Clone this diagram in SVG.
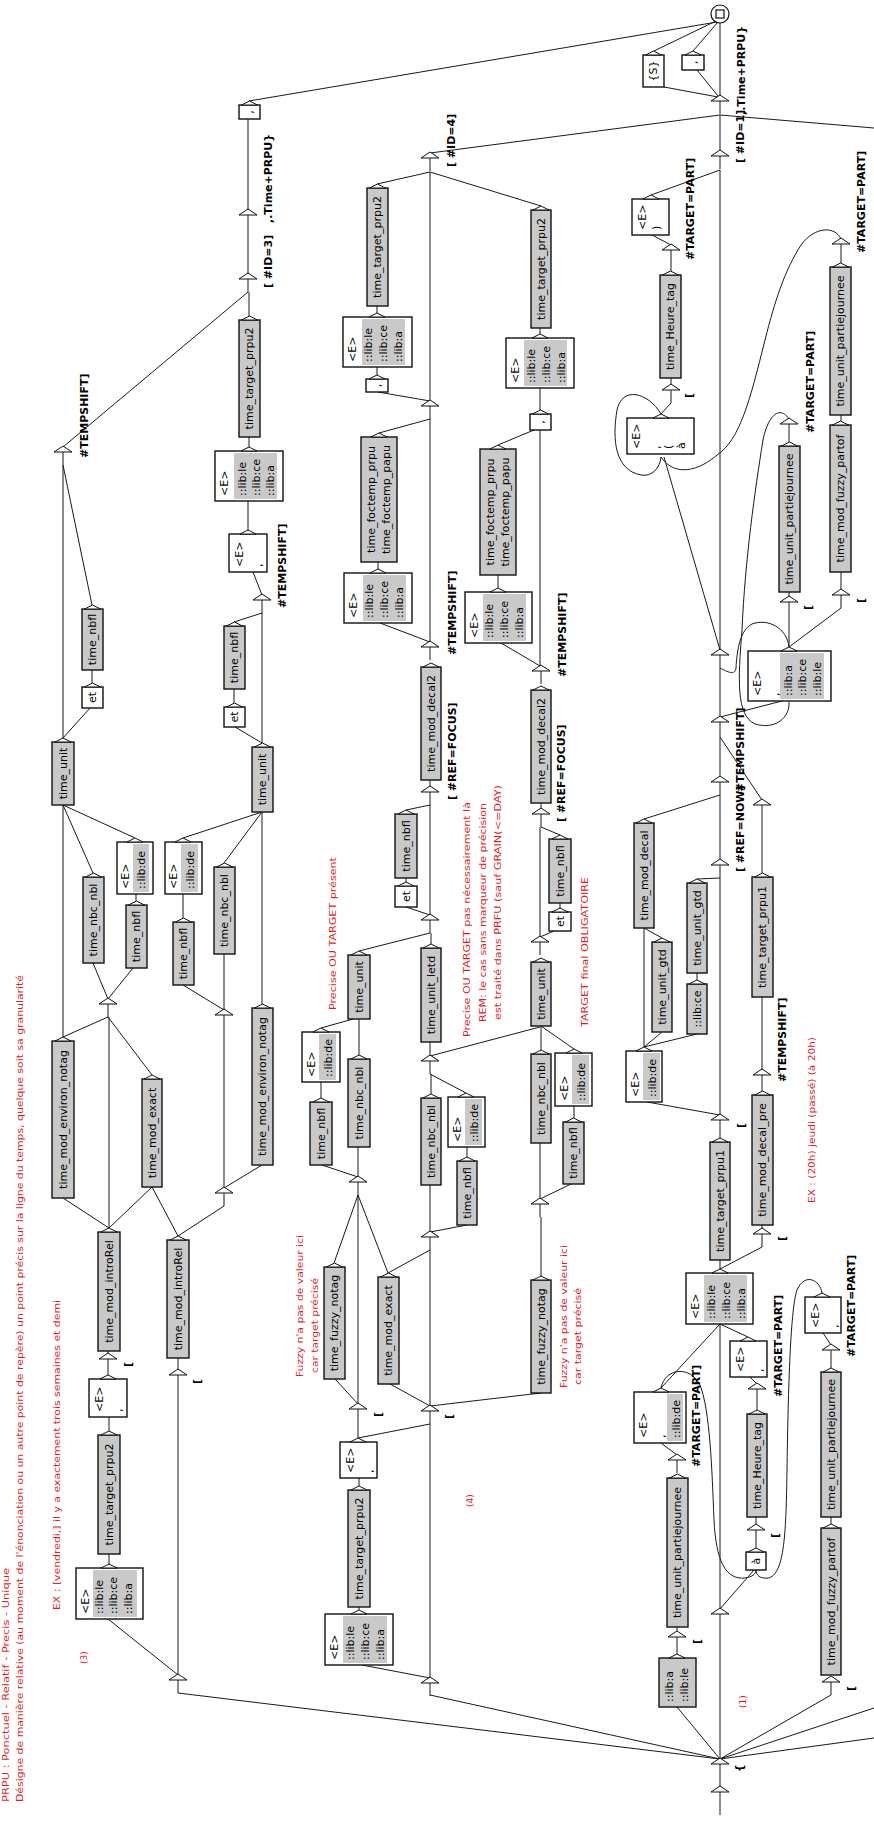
<svg xmlns="http://www.w3.org/2000/svg" width="874" height="1821" viewBox="0 0 874 1821">
<style>
.e{fill:none;stroke:#1a1a1a;stroke-width:1}
.bx{fill:#fff;stroke:#111;stroke-width:1.4}
.gb{fill:#c9c9c9;stroke:#111;stroke-width:1.4}
.gr{fill:#c9c9c9}
.t{font-family:"DejaVu Sans",sans-serif;font-size:11px;fill:#000;text-anchor:middle;dominant-baseline:central}
.ts{font-family:"DejaVu Sans",sans-serif;font-size:11px;fill:#000;dominant-baseline:central}
.o{font-family:"DejaVu Sans",sans-serif;font-size:11px;font-weight:bold;fill:#000;dominant-baseline:central}
.r{font-family:"DejaVu Sans",sans-serif;font-size:9px;fill:#dc1e28}
</style>
<defs>
<path id="bt" d="M-8,0L0,-4L8,0Z" fill="#fff" stroke="#111" stroke-width="1"/>
<g id="ft"><path d="M0,0V15" fill="none" stroke="#1a1a1a"/><path d="M-9,2L0,-4L9,2Z" fill="#fff" stroke="#111"/></g>
</defs>
<rect width="874" height="1821" fill="#fff"/>

<g id="connectors" class="e">
<path d="M720,96V23"/><path d="M718,97L664,87"/><path d="M718,96L697,70"/><path d="M654,51L716,21"/><path d="M693,51L718,22"/><path d="M249,101L717,22"/>
<path d="M720,151V115"/><path d="M430,153L720,115"/><path d="M874,128L720,115"/><path d="M651,195L720,170"/><path d="M720,650V170"/>
<path d="M671,245L652,235"/><path d="M671,271V263"/><path d="M671,385V378"/><path d="M661,414L671,403"/>
<path d="M661,414C648,392 622,386 617,410C612,440 615,470 641,475C652,477 660,468 661,457"/>
<path d="M841,239C835,226 815,226 801,245C785,270 775,300 765,340C750,400 740,440 717,455C700,470 675,478 661,457"/>
<path d="M841,263V257"/><path d="M841,421V415"/><path d="M841,590V572"/><path d="M789,647L841,608"/><path d="M789,647V615"/><path d="M789,597V592"/><path d="M789,442V437"/>
<path d="M789,419C780,405 768,415 763,440C755,490 745,560 742,630C738,680 736,715 755,724C775,730 790,718 789,702"/>
<path d="M789,647C787,628 768,618 752,624C740,630 737,650 736,668C735,676 728,672 720,668"/>
<path d="M720,717L782,701"/><path d="M720,717V668"/><path d="M720,650L664,457"/><path d="M720,777V735"/><path d="M762,800L720,737"/>
<path d="M644,819L720,795"/><path d="M720,860V795"/><path d="M697,879L720,878"/><path d="M762,873V818"/><path d="M762,1070V997"/><path d="M762,1091V1088"/><path d="M762,1229V1225"/><path d="M720,1269L762,1247"/>
<path d="M662,938L644,928"/><path d="M697,980V973"/><path d="M644,1047V928"/><path d="M644,1047L662,1032"/><path d="M644,1047L697,1034"/>
<path d="M720,1115L647,1102"/><path d="M720,1115V878"/><path d="M720,1138V1133"/><path d="M720,1269V1260"/>
<path d="M661,1388L720,1324"/><path d="M748,1337L720,1324"/><path d="M720,1609V1324"/>
<path d="M661,1388C665,1368 690,1365 700,1385C710,1410 712,1470 714,1520C716,1560 725,1580 745,1578C752,1577 756,1574 756,1570"/>
<path d="M677,1455L661,1443"/><path d="M677,1632V1627"/><path d="M677,1654V1650"/><path d="M720,1759L677,1707"/>
<path d="M757,1384L750,1377"/><path d="M757,1410V1402"/><path d="M756,1525V1517"/><path d="M756,1548V1543"/><path d="M720,1609L754,1570"/>
<path d="M822,1293C820,1280 805,1272 797,1290C790,1310 788,1400 787,1470C786,1530 785,1575 768,1578C760,1579 756,1575 756,1570"/>
<path d="M831,1345L823,1333"/><path d="M831,1368V1363"/><path d="M831,1524V1517"/>
<path d="M720,1759L831,1695"/><path d="M720,1759L874,1708"/><path d="M720,1759L874,1738"/><path d="M720,1759V1627"/><path d="M720,1759L430,1695"/><path d="M720,1759L178,1693"/><path d="M720,1787V1777"/><path d="M720,1805V1815"/>
<path d="M248,210V119"/><path d="M248,274V228"/><path d="M63,447L248,292"/><path d="M249,316V292"/><path d="M249,447V437"/><path d="M248,530V501"/><path d="M262,595L253,572"/>
<path d="M92,605L63,465"/><path d="M63,738V465"/><path d="M92,683V670"/><path d="M63,738L90,708"/><path d="M93,873L63,805"/><path d="M135,838L63,805"/><path d="M63,1037V805"/><path d="M136,901V894"/>
<path d="M108,999L93,963"/><path d="M108,999L133,968"/><path d="M152,1075L108,1017"/><path d="M63,1037L108,1017"/><path d="M109,1228L63,1198"/><path d="M109,1228V1017"/><path d="M109,1228L152,1187"/>
<path d="M108,1354V1351"/><path d="M108,1375V1372"/><path d="M109,1431V1417"/><path d="M109,1564V1554"/><path d="M178,1675L108,1619"/><path d="M178,1675V1388"/><path d="M178,1370V1358"/>
<path d="M178,1236L152,1187"/><path d="M178,1236L224,1206"/><path d="M224,1188L262,1165"/><path d="M224,1188V1028"/><path d="M224,1010V954"/><path d="M224,1010L183,985"/><path d="M183,918V894"/>
<path d="M183,838L262,812"/><path d="M224,863L262,812"/><path d="M262,1004V812"/><path d="M262,743V613"/><path d="M234,703V689"/><path d="M262,743L235,727"/><path d="M234,622L262,613"/>
<path d="M377,184L430,172"/><path d="M541,206L430,172"/><path d="M430,401V172"/><path d="M377,313V306"/><path d="M377,375V367"/><path d="M430,401L378,392"/><path d="M379,433L430,419"/><path d="M430,642V419"/>
<path d="M378,569V562"/><path d="M430,642L380,623"/><path d="M430,787V780"/><path d="M406,810L430,805"/><path d="M430,915V805"/><path d="M406,882V878"/><path d="M430,915L406,907"/>
<path d="M359,951L430,933"/><path d="M431,944V933"/><path d="M430,1056V1042"/><path d="M430,1056L540,1027"/><path d="M466,1093L430,1074"/><path d="M431,1094V1074"/><path d="M467,1157V1147"/>
<path d="M430,1232V1185"/><path d="M430,1232L467,1225"/><path d="M321,1028L353,1019"/><path d="M359,1055V1019"/><path d="M321,1098V1082"/><path d="M358,1177V1147"/><path d="M358,1177L322,1165"/>
<path d="M334,1263L358,1195"/><path d="M388,1273L358,1195"/><path d="M388,1273L430,1250"/><path d="M358,1404V1195"/><path d="M358,1404L335,1379"/><path d="M430,1406L390,1384"/><path d="M430,1406V1250"/><path d="M430,1406L541,1393"/>
<path d="M358,1438V1422"/><path d="M358,1438L430,1424"/><path d="M359,1486V1478"/><path d="M359,1610V1607"/><path d="M430,1678L362,1665"/><path d="M430,1678V1424"/><path d="M541,1276V1217"/>
<path d="M540,334V328"/><path d="M540,410V388"/><path d="M498,445L534,430"/><path d="M540,666V430"/><path d="M498,588V575"/><path d="M540,666L501,643"/><path d="M541,809V803"/>
<path d="M560,835L541,827"/><path d="M540,937V827"/><path d="M560,908V903"/><path d="M540,937L554,931"/><path d="M541,1050V1026"/><path d="M574,1049L541,1026"/><path d="M574,1118V1106"/><path d="M540,1199V1143"/><path d="M540,1199L571,1184"/>
</g>

<g id="nodes">
<g id="final"><circle cx="720" cy="14" r="9" fill="#fff" stroke="#111" stroke-width="1.2"/><rect x="716" y="10" width="8" height="8" fill="#fff" stroke="#111" stroke-width="1.2"/></g>
<g id="init"><use href="#ft" x="720" y="1790"/></g>
<g id="hub"><use href="#ft" x="720" y="1762"/><text class="o" transform="translate(739,1772) rotate(-90)">{</text></g>

<g id="t99"><use href="#ft" x="720" y="99"/><text class="o" transform="translate(741,115) rotate(-90)">,.Time+PRPU}</text></g>
<g id="t154"><use href="#ft" x="720" y="154"/><text class="o" transform="translate(740,163) rotate(-90)">[ #ID=1]</text></g>
<g id="t248"><use href="#ft" x="671" y="248"/><text class="o" transform="translate(690,260) rotate(-90)">#TARGET=PART]</text></g>
<g id="t388"><use href="#ft" x="671" y="388"/><text class="o" transform="translate(689,398) rotate(-90)">[</text></g>
<g id="t242"><use href="#ft" x="841" y="242"/><text class="o" transform="translate(861,253) rotate(-90)">#TARGET=PART]</text></g>
<g id="t593"><use href="#ft" x="841" y="593"/><text class="o" transform="translate(861,603) rotate(-90)">[</text></g>
<g id="t422"><use href="#ft" x="789" y="422"/><text class="o" transform="translate(810,433) rotate(-90)">#TARGET=PART]</text></g>
<g id="t600"><use href="#ft" x="789" y="600"/><text class="o" transform="translate(808,610) rotate(-90)">[</text></g>
<g id="t653"><use href="#ft" x="720" y="653"/></g>
<g id="t720"><use href="#ft" x="720" y="720"/></g>
<g id="t780"><use href="#ft" x="720" y="780"/><text class="o" transform="translate(740,792) rotate(-90)">#TEMPSHIFT]</text></g>
<g id="t803"><use href="#ft" x="762" y="803"/></g>
<g id="t863"><use href="#ft" x="720" y="863"/><text class="o" transform="translate(740,872) rotate(-90)">[ #REF=NOW]</text></g>
<g id="t1073"><use href="#ft" x="762" y="1073"/><text class="o" transform="translate(782,1082) rotate(-90)">#TEMPSHIFT]</text></g>
<g id="t1118"><use href="#ft" x="720" y="1118"/><text class="o" transform="translate(741,1128) rotate(-90)">[</text></g>
<g id="t1232"><use href="#ft" x="762" y="1232"/><text class="o" transform="translate(782,1241) rotate(-90)">[</text></g>
<g id="t1387"><use href="#ft" x="757" y="1387"/><text class="o" transform="translate(778,1397) rotate(-90)">#TARGET=PART]</text></g>
<g id="t1458"><use href="#ft" x="677" y="1458"/><text class="o" transform="translate(696,1467) rotate(-90)">#TARGET=PART]</text></g>
<g id="t1528"><use href="#ft" x="756" y="1528"/><text class="o" transform="translate(775,1538) rotate(-90)">[</text></g>
<g id="t1612"><use href="#ft" x="720" y="1612"/></g>
<g id="t1635"><use href="#ft" x="677" y="1635"/><text class="o" transform="translate(697,1644) rotate(-90)">[</text></g>
<g id="t1348"><use href="#ft" x="831" y="1348"/><text class="o" transform="translate(851,1357) rotate(-90)">#TARGET=PART]</text></g>
<g id="t1680"><use href="#ft" x="831" y="1680"/><text class="o" transform="translate(851,1691) rotate(-90)">[</text></g>
<g id="t213"><use href="#ft" x="248" y="213"/><text class="o" transform="translate(268,223) rotate(-90)">,.Time+PRPU}</text></g>
<g id="t277"><use href="#ft" x="248" y="277"/><text class="o" transform="translate(268,288) rotate(-90)">[ #ID=3]</text></g>
<g id="t450"><use href="#ft" x="63" y="450"/><text class="o" transform="translate(84,458) rotate(-90)">#TEMPSHIFT]</text></g>
<g id="t598"><use href="#ft" x="262" y="598"/><text class="o" transform="translate(282,608) rotate(-90)">#TEMPSHIFT]</text></g>
<g id="t1002"><use href="#ft" x="108" y="1002"/></g>
<g id="t1013"><use href="#ft" x="224" y="1013"/></g>
<g id="t1191"><use href="#ft" x="224" y="1191"/></g>
<g id="t1357"><use href="#ft" x="108" y="1357"/><text class="o" transform="translate(128,1367) rotate(-90)">[</text></g>
<g id="t1373"><use href="#ft" x="178" y="1373"/><text class="o" transform="translate(197,1384) rotate(-90)">[</text></g>
<g id="t1678"><use href="#ft" x="178" y="1678"/></g>
<g id="t156"><use href="#ft" x="430" y="156"/><text class="o" transform="translate(451,167) rotate(-90)">[ #ID=4]</text></g>
<g id="t404"><use href="#ft" x="430" y="404"/></g>
<g id="t645"><use href="#ft" x="430" y="645"/><text class="o" transform="translate(452,655) rotate(-90)">#TEMPSHIFT]</text></g>
<g id="t790"><use href="#ft" x="430" y="790"/><text class="o" transform="translate(452,800) rotate(-90)">[ #REF=FOCUS]</text></g>
<g id="t918"><use href="#ft" x="430" y="918"/></g>
<g id="t1059"><use href="#ft" x="430" y="1059"/></g>
<g id="t1180"><use href="#ft" x="358" y="1180"/></g>
<g id="t1235"><use href="#ft" x="430" y="1235"/></g>
<g id="t1407"><use href="#ft" x="358" y="1407"/><text class="o" transform="translate(378,1417) rotate(-90)">[</text></g>
<g id="t1409"><use href="#ft" x="430" y="1409"/><text class="o" transform="translate(449,1419) rotate(-90)">[</text></g>
<g id="t1681"><use href="#ft" x="430" y="1681"/></g>
<g id="t669"><use href="#ft" x="541" y="669"/><text class="o" transform="translate(562,677) rotate(-90)">#TEMPSHIFT]</text></g>
<g id="t812"><use href="#ft" x="541" y="812"/><text class="o" transform="translate(561,822) rotate(-90)">[ #REF=FOCUS]</text></g>
<g id="t940"><use href="#ft" x="540" y="940"/></g>
<g id="t1202"><use href="#ft" x="540" y="1202"/></g>

<g id="ttp2a"><rect class="gb" x="239" y="320" width="21" height="117"/><use href="#bt" x="249.5" y="320"/><text class="t" transform="translate(249.5,378.5) rotate(-90)">time_target_prpu2</text></g>
<g id="nbfl1"><rect class="gb" x="82" y="609" width="21" height="61"/><use href="#bt" x="92.5" y="609"/><text class="t" transform="translate(92.5,639.5) rotate(-90)">time_nbfl</text></g>
<g id="et1"><rect class="bx" x="82" y="687" width="21" height="21"/><use href="#bt" x="92.5" y="687"/><text class="t" transform="translate(92.5,697.5) rotate(-90)">et</text></g>
<g id="unit1"><rect class="gb" x="52" y="742" width="22" height="63"/><use href="#bt" x="63" y="742"/><text class="t" transform="translate(63,773.5) rotate(-90)">time_unit</text></g>
<g id="nbcnbl1"><rect class="gb" x="83" y="877" width="21" height="86"/><use href="#bt" x="93.5" y="877"/><text class="t" transform="translate(93.5,920) rotate(-90)">time_nbc_nbl</text></g>
<g id="nbfl1b"><rect class="gb" x="126" y="905" width="21" height="63"/><use href="#bt" x="136.5" y="905"/><text class="t" transform="translate(136.5,936.5) rotate(-90)">time_nbfl</text></g>
<g id="env1"><rect class="gb" x="52" y="1041" width="22" height="157"/><use href="#bt" x="63" y="1041"/><text class="t" transform="translate(63,1119.5) rotate(-90)">time_mod_environ_notag</text></g>
<g id="exact1"><rect class="gb" x="142" y="1079" width="20" height="108"/><use href="#bt" x="152" y="1079"/><text class="t" transform="translate(152,1133) rotate(-90)">time_mod_exact</text></g>
<g id="intro1"><rect class="gb" x="98" y="1232" width="22" height="119"/><use href="#bt" x="109" y="1232"/><text class="t" transform="translate(109,1291.5) rotate(-90)">time_mod_introRel</text></g>
<g id="ttp2b"><rect class="gb" x="98" y="1435" width="22" height="119"/><use href="#bt" x="109" y="1435"/><text class="t" transform="translate(109,1494.5) rotate(-90)">time_target_prpu2</text></g>
<g id="nbfl2"><rect class="gb" x="224" y="626" width="21" height="63"/><use href="#bt" x="234.5" y="626"/><text class="t" transform="translate(234.5,657.5) rotate(-90)">time_nbfl</text></g>
<g id="et2"><rect class="bx" x="224" y="707" width="21" height="20"/><use href="#bt" x="234.5" y="707"/><text class="t" transform="translate(234.5,717) rotate(-90)">et</text></g>
<g id="unit2"><rect class="gb" x="252" y="747" width="21" height="65"/><use href="#bt" x="262.5" y="747"/><text class="t" transform="translate(262.5,779.5) rotate(-90)">time_unit</text></g>
<g id="nbcnbl2"><rect class="gb" x="214" y="867" width="21" height="87"/><use href="#bt" x="224.5" y="867"/><text class="t" transform="translate(224.5,910.5) rotate(-90)">time_nbc_nbl</text></g>
<g id="nbfl2b"><rect class="gb" x="173" y="922" width="21" height="63"/><use href="#bt" x="183.5" y="922"/><text class="t" transform="translate(183.5,953.5) rotate(-90)">time_nbfl</text></g>
<g id="env2"><rect class="gb" x="252" y="1008" width="21" height="157"/><use href="#bt" x="262.5" y="1008"/><text class="t" transform="translate(262.5,1086.5) rotate(-90)">time_mod_environ_notag</text></g>
<g id="intro2"><rect class="gb" x="167" y="1240" width="22" height="118"/><use href="#bt" x="178" y="1240"/><text class="t" transform="translate(178,1299) rotate(-90)">time_mod_introRel</text></g>
<g id="ttp2c"><rect class="gb" x="367" y="188" width="21" height="118"/><use href="#bt" x="377.5" y="188"/><text class="t" transform="translate(377.5,247) rotate(-90)">time_target_prpu2</text></g>
<g id="dashc"><rect class="bx" x="366" y="379" width="22" height="13"/><use href="#bt" x="377" y="379"/><text class="t" transform="translate(377,385.5) rotate(-90)">,</text></g>
<g id="focc"><rect class="gb" x="361" y="437" width="36" height="125"/><use href="#bt" x="379" y="437"/><text class="t" transform="translate(371,499.5) rotate(-90)">time_foctemp_prpu</text><text class="t" transform="translate(386,499.5) rotate(-90)">time_foctemp_papu</text></g>
<g id="decal2c"><rect class="gb" x="421" y="667" width="20" height="113"/><use href="#bt" x="431" y="667"/><text class="t" transform="translate(431,723.5) rotate(-90)">time_mod_decal2</text></g>
<g id="nbfl3"><rect class="gb" x="395" y="814" width="22" height="64"/><use href="#bt" x="406" y="814"/><text class="t" transform="translate(406,846) rotate(-90)">time_nbfl</text></g>
<g id="et3"><rect class="bx" x="395" y="886" width="22" height="21"/><use href="#bt" x="406" y="886"/><text class="t" transform="translate(406,896.5) rotate(-90)">et</text></g>
<g id="unit3"><rect class="gb" x="348" y="955" width="22" height="64"/><use href="#bt" x="359" y="955"/><text class="t" transform="translate(359,987) rotate(-90)">time_unit</text></g>
<g id="letd"><rect class="gb" x="421" y="948" width="20" height="94"/><use href="#bt" x="431" y="948"/><text class="t" transform="translate(431,995) rotate(-90)">time_unit_letd</text></g>
<g id="nbcnbl3"><rect class="gb" x="348" y="1059" width="22" height="88"/><use href="#bt" x="359" y="1059"/><text class="t" transform="translate(359,1103) rotate(-90)">time_nbc_nbl</text></g>
<g id="nbfl3b"><rect class="gb" x="310" y="1102" width="22" height="63"/><use href="#bt" x="321" y="1102"/><text class="t" transform="translate(321,1133.5) rotate(-90)">time_nbfl</text></g>
<g id="nbcnbl3b"><rect class="gb" x="421" y="1098" width="20" height="87"/><use href="#bt" x="431" y="1098"/><text class="t" transform="translate(431,1141.5) rotate(-90)">time_nbc_nbl</text></g>
<g id="nbfl3c"><rect class="gb" x="457" y="1161" width="20" height="64"/><use href="#bt" x="467" y="1161"/><text class="t" transform="translate(467,1193) rotate(-90)">time_nbfl</text></g>
<g id="fuzzy3"><rect class="gb" x="324" y="1267" width="21" height="112"/><use href="#bt" x="334.5" y="1267"/><text class="t" transform="translate(334.5,1323) rotate(-90)">time_fuzzy_notag</text></g>
<g id="exact3"><rect class="gb" x="378" y="1277" width="21" height="107"/><use href="#bt" x="388.5" y="1277"/><text class="t" transform="translate(388.5,1330.5) rotate(-90)">time_mod_exact</text></g>
<g id="ttp2d"><rect class="gb" x="348" y="1490" width="22" height="117"/><use href="#bt" x="359" y="1490"/><text class="t" transform="translate(359,1548.5) rotate(-90)">time_target_prpu2</text></g>
<g id="ttp2e"><rect class="gb" x="531" y="210" width="20" height="118"/><use href="#bt" x="541" y="210"/><text class="t" transform="translate(541,269) rotate(-90)">time_target_prpu2</text></g>
<g id="dashe"><rect class="bx" x="530" y="414" width="21" height="16"/><use href="#bt" x="540.5" y="414"/><text class="t" transform="translate(540.5,422) rotate(-90)">,</text></g>
<g id="foce"><rect class="gb" x="480" y="449" width="36" height="126"/><use href="#bt" x="498" y="449"/><text class="t" transform="translate(490,512) rotate(-90)">time_foctemp_prpu</text><text class="t" transform="translate(505,512) rotate(-90)">time_foctemp_papu</text></g>
<g id="decal2e"><rect class="gb" x="531" y="690" width="20" height="113"/><use href="#bt" x="541" y="690"/><text class="t" transform="translate(541,746.5) rotate(-90)">time_mod_decal2</text></g>
<g id="nbfl4"><rect class="gb" x="549" y="839" width="22" height="64"/><use href="#bt" x="560" y="839"/><text class="t" transform="translate(560,871) rotate(-90)">time_nbfl</text></g>
<g id="et4"><rect class="bx" x="549" y="912" width="22" height="19"/><use href="#bt" x="560" y="912"/><text class="t" transform="translate(560,921.5) rotate(-90)">et</text></g>
<g id="unit4"><rect class="gb" x="531" y="962" width="20" height="64"/><use href="#bt" x="541" y="962"/><text class="t" transform="translate(541,994) rotate(-90)">time_unit</text></g>
<g id="nbcnbl4"><rect class="gb" x="531" y="1054" width="20" height="89"/><use href="#bt" x="541" y="1054"/><text class="t" transform="translate(541,1098.5) rotate(-90)">time_nbc_nbl</text></g>
<g id="nbfl4b"><rect class="gb" x="563" y="1122" width="21" height="62"/><use href="#bt" x="573.5" y="1122"/><text class="t" transform="translate(573.5,1153) rotate(-90)">time_nbfl</text></g>
<g id="fuzzy4"><rect class="gb" x="531" y="1280" width="20" height="113"/><use href="#bt" x="541" y="1280"/><text class="t" transform="translate(541,1336.5) rotate(-90)">time_fuzzy_notag</text></g>
<g id="dash3"><rect class="bx" x="239" y="105" width="21" height="14"/><use href="#bt" x="249.5" y="105"/><text class="t" transform="translate(249.5,112) rotate(-90)">,</text></g>
<g id="heure1"><rect class="gb" x="660" y="275" width="21" height="103"/><use href="#bt" x="670.5" y="275"/><text class="t" transform="translate(670.5,326.5) rotate(-90)">time_Heure_tag</text></g>
<g id="pjR1"><rect class="gb" x="830" y="267" width="21" height="148"/><use href="#bt" x="840.5" y="267"/><text class="t" transform="translate(840.5,341) rotate(-90)">time_unit_partiejournee</text></g>
<g id="fp1"><rect class="gb" x="830" y="425" width="21" height="147"/><use href="#bt" x="840.5" y="425"/><text class="t" transform="translate(840.5,498.5) rotate(-90)">time_mod_fuzzy_partof</text></g>
<g id="pjL1"><rect class="gb" x="779" y="446" width="21" height="146"/><use href="#bt" x="789.5" y="446"/><text class="t" transform="translate(789.5,519) rotate(-90)">time_unit_partiejournee</text></g>
<g id="decal"><rect class="gb" x="634" y="823" width="20" height="105"/><use href="#bt" x="644" y="823"/><text class="t" transform="translate(644,875.5) rotate(-90)">time_mod_decal</text></g>
<g id="gtda"><rect class="gb" x="652" y="942" width="20" height="90"/><use href="#bt" x="662" y="942"/><text class="t" transform="translate(662,987) rotate(-90)">time_unit_gtd</text></g>
<g id="gtdb"><rect class="gb" x="687" y="883" width="20" height="90"/><use href="#bt" x="697" y="883"/><text class="t" transform="translate(697,928) rotate(-90)">time_unit_gtd</text></g>
<g id="libce"><rect class="gb" x="687" y="984" width="20" height="50"/><use href="#bt" x="697" y="984"/><text class="t" transform="translate(697,1009) rotate(-90)">::lib:ce</text></g>
<g id="ttp1R"><rect class="gb" x="752" y="877" width="21" height="120"/><use href="#bt" x="762.5" y="877"/><text class="t" transform="translate(762.5,937) rotate(-90)">time_target_prpu1</text></g>
<g id="decalpre"><rect class="gb" x="752" y="1095" width="21" height="130"/><use href="#bt" x="762.5" y="1095"/><text class="t" transform="translate(762.5,1160) rotate(-90)">time_mod_decal_pre</text></g>
<g id="ttp1M"><rect class="gb" x="710" y="1142" width="20" height="118"/><use href="#bt" x="720" y="1142"/><text class="t" transform="translate(720,1201) rotate(-90)">time_target_prpu1</text></g>
<g id="heure2"><rect class="gb" x="747" y="1414" width="20" height="103"/><use href="#bt" x="757" y="1414"/><text class="t" transform="translate(757,1465.5) rotate(-90)">time_Heure_tag</text></g>
<g id="pjL2"><rect class="gb" x="667" y="1478" width="21" height="149"/><use href="#bt" x="677.5" y="1478"/><text class="t" transform="translate(677.5,1552.5) rotate(-90)">time_unit_partiejournee</text></g>
<g id="pjR2"><rect class="gb" x="821" y="1372" width="20" height="145"/><use href="#bt" x="831" y="1372"/><text class="t" transform="translate(831,1444.5) rotate(-90)">time_unit_partiejournee</text></g>
<g id="fp2"><rect class="gb" x="821" y="1528" width="20" height="147"/><use href="#bt" x="831" y="1528"/><text class="t" transform="translate(831,1601.5) rotate(-90)">time_mod_fuzzy_partof</text></g>
<g id="boxS"><rect class="bx" x="643" y="55" width="21" height="32"/><use href="#bt" x="653.5" y="55"/><text class="t" transform="translate(653.5,71) rotate(-90)">{S}</text></g>
<g id="dot1"><rect class="bx" x="682" y="55" width="22" height="15"/><use href="#bt" x="693" y="55"/><text class="t" transform="translate(693,62.5) rotate(-90)">,</text></g>
<g id="hbox"><rect class="bx" x="746" y="1552" width="20" height="18"/><use href="#bt" x="756" y="1552"/><text class="t" transform="translate(756,1561) rotate(-90)">à</text></g>

<g id="liba"><rect class="bx" x="215" y="451" width="68" height="50"/><rect class="gr" x="234" y="453" width="43" height="46"/><use href="#bt" x="249" y="451"/><text class="ts" transform="translate(224,496) rotate(-90)">&lt;E&gt;</text><text class="ts" transform="translate(242,496) rotate(-90)">::lib:le</text><text class="ts" transform="translate(256,496) rotate(-90)">::lib:ce</text><text class="ts" transform="translate(270,496) rotate(-90)">::lib:a</text></g>
<g id="edota"><rect class="bx" x="229" y="534" width="38" height="38"/><use href="#bt" x="248" y="534"/><text class="ts" transform="translate(239,567) rotate(-90)">&lt;E&gt;</text><text class="ts" transform="translate(258,567) rotate(-90)">,</text></g>
<g id="libb"><rect class="bx" x="76" y="1568" width="67" height="51"/><rect class="gr" x="93" y="1570" width="44" height="47"/><use href="#bt" x="109" y="1568"/><text class="ts" transform="translate(85,1614) rotate(-90)">&lt;E&gt;</text><text class="ts" transform="translate(99,1614) rotate(-90)">::lib:le</text><text class="ts" transform="translate(113,1614) rotate(-90)">::lib:ce</text><text class="ts" transform="translate(128,1614) rotate(-90)">::lib:a</text></g>
<g id="edot3"><rect class="bx" x="89" y="1379" width="38" height="38"/><use href="#bt" x="108" y="1379"/><text class="ts" transform="translate(99,1412) rotate(-90)">&lt;E&gt;</text><text class="ts" transform="translate(118,1412) rotate(-90)">,</text></g>
<g id="ede1"><rect class="bx" x="117" y="842" width="36" height="52"/><rect class="gr" x="133" y="844" width="16" height="48"/><use href="#bt" x="135" y="842"/><text class="ts" transform="translate(125,889) rotate(-90)">&lt;E&gt;</text><text class="ts" transform="translate(141,889) rotate(-90)">::lib:de</text></g>
<g id="ede2"><rect class="bx" x="165" y="842" width="37" height="52"/><rect class="gr" x="181" y="844" width="17" height="48"/><use href="#bt" x="183" y="842"/><text class="ts" transform="translate(173,889) rotate(-90)">&lt;E&gt;</text><text class="ts" transform="translate(190,889) rotate(-90)">::lib:de</text></g>
<g id="libc"><rect class="bx" x="343" y="317" width="69" height="50"/><rect class="gr" x="362" y="319" width="43" height="46"/><use href="#bt" x="377" y="317"/><text class="ts" transform="translate(352,362) rotate(-90)">&lt;E&gt;</text><text class="ts" transform="translate(368,362) rotate(-90)">::lib:le</text><text class="ts" transform="translate(383,362) rotate(-90)">::lib:ce</text><text class="ts" transform="translate(398,362) rotate(-90)">::lib:a</text></g>
<g id="libc2"><rect class="bx" x="344" y="573" width="68" height="50"/><rect class="gr" x="363" y="575" width="43" height="46"/><use href="#bt" x="378" y="573"/><text class="ts" transform="translate(353,618) rotate(-90)">&lt;E&gt;</text><text class="ts" transform="translate(369,618) rotate(-90)">::lib:le</text><text class="ts" transform="translate(384,618) rotate(-90)">::lib:ce</text><text class="ts" transform="translate(399,618) rotate(-90)">::lib:a</text></g>
<g id="ede3"><rect class="bx" x="302" y="1032" width="38" height="50"/><rect class="gr" x="319" y="1034" width="17" height="46"/><use href="#bt" x="321" y="1032"/><text class="ts" transform="translate(311,1077) rotate(-90)">&lt;E&gt;</text><text class="ts" transform="translate(328,1077) rotate(-90)">::lib:de</text></g>
<g id="ede3b"><rect class="bx" x="448" y="1097" width="37" height="50"/><rect class="gr" x="465" y="1099" width="17" height="46"/><use href="#bt" x="466" y="1097"/><text class="ts" transform="translate(457,1142) rotate(-90)">&lt;E&gt;</text><text class="ts" transform="translate(474,1142) rotate(-90)">::lib:de</text></g>
<g id="edot4"><rect class="bx" x="340" y="1442" width="37" height="36"/><use href="#bt" x="358" y="1442"/><text class="ts" transform="translate(350,1473) rotate(-90)">&lt;E&gt;</text><text class="ts" transform="translate(369,1473) rotate(-90)">,</text></g>
<g id="libd"><rect class="bx" x="325" y="1614" width="68" height="51"/><rect class="gr" x="343" y="1616" width="44" height="47"/><use href="#bt" x="359" y="1614"/><text class="ts" transform="translate(334,1660) rotate(-90)">&lt;E&gt;</text><text class="ts" transform="translate(350,1660) rotate(-90)">::lib:le</text><text class="ts" transform="translate(365,1660) rotate(-90)">::lib:ce</text><text class="ts" transform="translate(380,1660) rotate(-90)">::lib:a</text></g>
<g id="libe"><rect class="bx" x="506" y="338" width="68" height="50"/><rect class="gr" x="524" y="340" width="43" height="46"/><use href="#bt" x="540" y="338"/><text class="ts" transform="translate(515,383) rotate(-90)">&lt;E&gt;</text><text class="ts" transform="translate(531,383) rotate(-90)">::lib:le</text><text class="ts" transform="translate(546,383) rotate(-90)">::lib:ce</text><text class="ts" transform="translate(561,383) rotate(-90)">::lib:a</text></g>
<g id="libe2"><rect class="bx" x="465" y="592" width="67" height="51"/><rect class="gr" x="483" y="594" width="43" height="47"/><use href="#bt" x="498" y="592"/><text class="ts" transform="translate(474,638) rotate(-90)">&lt;E&gt;</text><text class="ts" transform="translate(489,638) rotate(-90)">::lib:le</text><text class="ts" transform="translate(504,638) rotate(-90)">::lib:ce</text><text class="ts" transform="translate(519,638) rotate(-90)">::lib:a</text></g>
<g id="ede4"><rect class="bx" x="555" y="1053" width="37" height="53"/><rect class="gr" x="572" y="1055" width="17" height="49"/><use href="#bt" x="574" y="1053"/><text class="ts" transform="translate(564,1101) rotate(-90)">&lt;E&gt;</text><text class="ts" transform="translate(581,1101) rotate(-90)">::lib:de</text></g>
<g id="ep"><rect class="bx" x="632" y="199" width="37" height="36"/><use href="#bt" x="651" y="199"/><text class="ts" transform="translate(642,230) rotate(-90)">&lt;E&gt;</text><text class="ts" transform="translate(656,230) rotate(-90)">)</text></g>
<g id="heureE1"><rect class="bx" x="627" y="418" width="67" height="36"/><use href="#bt" x="661" y="418"/><text class="ts" transform="translate(636,449) rotate(-90)">&lt;E&gt;</text><text class="ts" transform="translate(656,449) rotate(-90)">,</text><text class="ts" transform="translate(668,449) rotate(-90)">(</text><text class="ts" transform="translate(681,449) rotate(-90)">à</text></g>
<g id="lib1"><rect class="bx" x="748" y="651" width="83" height="50"/><rect class="gr" x="780" y="653" width="44" height="46"/><use href="#bt" x="789" y="651"/><text class="ts" transform="translate(757,696) rotate(-90)">&lt;E&gt;</text><text class="ts" transform="translate(775,696) rotate(-90)">,</text><text class="ts" transform="translate(788,696) rotate(-90)">::lib:a</text><text class="ts" transform="translate(802,696) rotate(-90)">::lib:ce</text><text class="ts" transform="translate(817,696) rotate(-90)">::lib:le</text></g>
<g id="ede5"><rect class="bx" x="626" y="1051" width="36" height="51"/><rect class="gr" x="643" y="1053" width="17" height="47"/><use href="#bt" x="644" y="1051"/><text class="ts" transform="translate(635,1097) rotate(-90)">&lt;E&gt;</text><text class="ts" transform="translate(652,1097) rotate(-90)">::lib:de</text></g>
<g id="big"><rect class="bx" x="686" y="1273" width="67" height="51"/><rect class="gr" x="704" y="1275" width="43" height="47"/><use href="#bt" x="720" y="1273"/><text class="ts" transform="translate(695,1319) rotate(-90)">&lt;E&gt;</text><text class="ts" transform="translate(711,1319) rotate(-90)">::lib:le</text><text class="ts" transform="translate(726,1319) rotate(-90)">::lib:ce</text><text class="ts" transform="translate(741,1319) rotate(-90)">::lib:a</text></g>
<g id="edotde"><rect class="bx" x="634" y="1392" width="52" height="51"/><rect class="gr" x="667" y="1394" width="16" height="47"/><use href="#bt" x="661" y="1392"/><text class="ts" transform="translate(643,1438) rotate(-90)">&lt;E&gt;</text><text class="ts" transform="translate(661,1438) rotate(-90)">,</text><text class="ts" transform="translate(676,1438) rotate(-90)">::lib:de</text></g>
<g id="edotb"><rect class="bx" x="730" y="1341" width="37" height="36"/><use href="#bt" x="748" y="1341"/><text class="ts" transform="translate(740,1372) rotate(-90)">&lt;E&gt;</text><text class="ts" transform="translate(759,1372) rotate(-90)">,</text></g>
<g id="edotc"><rect class="bx" x="805" y="1297" width="36" height="36"/><use href="#bt" x="822" y="1297"/><text class="ts" transform="translate(815,1328) rotate(-90)">&lt;E&gt;</text><text class="ts" transform="translate(834,1328) rotate(-90)">,</text></g>
<g id="libale"><rect class="gb" x="659" y="1658" width="37" height="49"/><use href="#bt" x="677" y="1658"/><text class="ts" transform="translate(669,1702) rotate(-90)">::lib:a</text><text class="ts" transform="translate(684,1702) rotate(-90)">::lib:le</text></g>
</g>

<g id="comments">
<text class="r" transform="translate(9,1802) rotate(-90)" textLength="234" lengthAdjust="spacingAndGlyphs">PRPU : Ponctuel - Relatif - Precis - Unique</text>
<text class="r" transform="translate(23,1802) rotate(-90)" textLength="827" lengthAdjust="spacingAndGlyphs">Désigne de manière relative (au moment de l'énonciation ou un autre point de repère) un point précis sur la ligne du temps, quelque soit sa granularité</text>
<text class="r" transform="translate(60,1610) rotate(-90)" textLength="310" lengthAdjust="spacingAndGlyphs">EX : [vendredi,] il y a exactement trois semaines et demi</text>
<text class="r" transform="translate(87,1664) rotate(-90)">(3)</text>
<text class="r" transform="translate(303,1377) rotate(-90)" textLength="142" lengthAdjust="spacingAndGlyphs">Fuzzy n'a pas de valeur ici</text>
<text class="r" transform="translate(318,1373) rotate(-90)" textLength="95" lengthAdjust="spacingAndGlyphs">car target précisé</text>
<text class="r" transform="translate(567,1388) rotate(-90)" textLength="143" lengthAdjust="spacingAndGlyphs">Fuzzy n'a pas de valeur ici</text>
<text class="r" transform="translate(581,1385) rotate(-90)" textLength="97" lengthAdjust="spacingAndGlyphs">car target précisé</text>
<text class="r" transform="translate(473,1507) rotate(-90)">(4)</text>
<text class="r" transform="translate(336,1010) rotate(-90)" textLength="153" lengthAdjust="spacingAndGlyphs">Precise OU TARGET présent</text>
<text class="r" transform="translate(470,1037) rotate(-90)" textLength="235" lengthAdjust="spacingAndGlyphs">Precise OU TARGET pas nécessairement là</text>
<text class="r" transform="translate(486,1022) rotate(-90)" textLength="219" lengthAdjust="spacingAndGlyphs">REM: le cas sans marqueur de précision</text>
<text class="r" transform="translate(501,1020) rotate(-90)" textLength="235" lengthAdjust="spacingAndGlyphs">est traité dans PRFU (sauf GRAIN(&lt;=DAY)</text>
<text class="r" transform="translate(588,1027) rotate(-90)" textLength="150" lengthAdjust="spacingAndGlyphs">TARGET final OBLIGATOIRE</text>
<text class="r" transform="translate(815,1203) rotate(-90)" textLength="166" lengthAdjust="spacingAndGlyphs">EX : (20h) jeudi (passé) (à 20h)</text>
<text class="r" transform="translate(746,1708) rotate(-90)">(1)</text>
</g>
</svg>
